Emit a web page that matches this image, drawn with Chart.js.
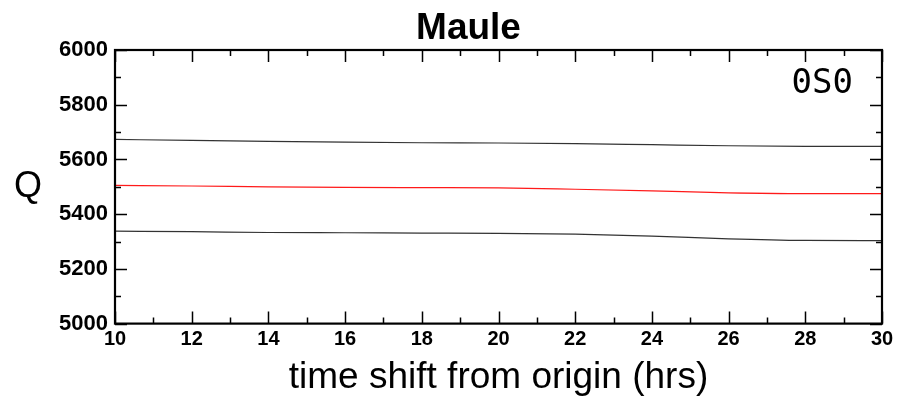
<!DOCTYPE html>
<html>
<head>
<meta charset="utf-8">
<script src="https://cdn.jsdelivr.net/npm/chart.js@4/dist/chart.umd.min.js"></script>
<style>
  html, body { margin: 0; padding: 0; background: #fff; }
  #wrap { width: 899px; height: 401px; position: relative; }
</style>
</head>
<body>
<div id="wrap"><canvas id="chart"></canvas></div>
<script>
// time shift (hrs) and Q values: upper bound, best estimate, lower bound
const hours = [10, 12, 14, 16, 18, 20, 22, 24, 26, 28, 30];
const qUpper = [5673, 5670, 5666, 5663, 5661, 5660, 5658, 5654, 5650, 5648, 5648];
const qBest = [5505, 5503, 5500, 5498, 5497, 5496, 5491, 5485, 5478, 5475, 5475];
const qLower = [5338, 5336, 5333, 5332, 5331, 5330, 5327, 5320, 5310, 5304, 5303];
const xTicks = [10, 12, 14, 16, 18, 20, 22, 24, 26, 28, 30];
const yTicks = [5000, 5200, 5400, 5600, 5800, 6000];

const FONT = '"Liberation Sans", Arial, Helvetica, sans-serif';

function toPoints(vals) {
  return hours.map((h, i) => ({ x: h, y: vals[i] }));
}

// frame with inward major/minor ticks on all four sides, plus the upright Q and mode label
const framePlugin = {
  id: 'frame',
  afterDraw(chart) {
    const { ctx, chartArea: a, scales } = chart;
    const x = scales.x, y = scales.y;
    ctx.save();
    ctx.strokeStyle = '#000';
    ctx.lineWidth = 1.5;
    ctx.beginPath();
    for (let h = 10; h <= 30; h++) {
      const px = Math.round(x.getPixelForValue(h)) + 0.5;
      const len = h % 2 === 0 ? 12 : 6;
      ctx.moveTo(px, a.bottom); ctx.lineTo(px, a.bottom - len);
      ctx.moveTo(px, a.top); ctx.lineTo(px, a.top + len);
    }
    for (let v = 5000; v <= 6000; v += 100) {
      const py = Math.round(y.getPixelForValue(v)) + 0.5;
      const len = v % 200 === 0 ? 12 : 6;
      ctx.moveTo(a.left, py); ctx.lineTo(a.left + len, py);
      ctx.moveTo(a.right, py); ctx.lineTo(a.right - len, py);
    }
    ctx.stroke();

    ctx.lineWidth = 2.2;
    ctx.strokeRect(a.left, a.top, a.right - a.left, a.bottom - a.top);

    ctx.fillStyle = '#000';
    ctx.font = '36px ' + FONT;
    ctx.textAlign = 'center';
    ctx.textBaseline = 'middle';
    ctx.fillText('Q', 28, (a.top + a.bottom) / 2);

    ctx.font = '34px "DejaVu Sans Mono", monospace';
    ctx.textAlign = 'right';
    ctx.textBaseline = 'alphabetic';
    ctx.fillText('0S0', a.right - 29, 93);
    ctx.restore();
  }
};

const lineStyle = {
  fill: false,
  pointRadius: 0,
  borderWidth: 1.2,
  cubicInterpolationMode: 'monotone'
};

new Chart(document.getElementById('chart'), {
  type: 'line',
  data: {
    datasets: [
      Object.assign({ label: 'upper', data: toPoints(qUpper), borderColor: '#333' }, lineStyle),
      Object.assign({ label: 'Q', data: toPoints(qBest), borderColor: '#ff1a1a' }, lineStyle),
      Object.assign({ label: 'lower', data: toPoints(qLower), borderColor: '#333' }, lineStyle)
    ]
  },
  options: {
    responsive: true,
    maintainAspectRatio: false,
    animation: false,
    layout: { padding: { left: 55, right: 17, top: 0, bottom: 0 } },
    plugins: {
      legend: { display: false },
      tooltip: { enabled: false },
      title: {
        display: true,
        text: 'Maule',
        color: '#000',
        font: { family: FONT, size: 37, weight: 'bold', lineHeight: 1.0 },
        padding: { top: 10.7, bottom: 2.3 }
      }
    },
    scales: {
      x: {
        type: 'linear',
        min: 10,
        max: 30,
        afterBuildTicks(scale) { scale.ticks = xTicks.map(v => ({ value: v })); },
        grid: { display: false, drawTicks: false },
        border: { display: false },
        ticks: {
          padding: 5,
          color: '#000',
          callback: v => String(v),
          font: { family: FONT, size: 20, weight: 'bold', lineHeight: 1.1 }
        },
        title: {
          display: true,
          text: 'time shift from origin (hrs)',
          color: '#000',
          font: { family: FONT, size: 37, lineHeight: 1.2 },
          padding: { top: 0, bottom: 1 }
        }
      },
      y: {
        min: 5000,
        max: 6000,
        afterBuildTicks(scale) { scale.ticks = yTicks.map(v => ({ value: v })); },
        afterFit(scale) { scale.width = 60; },
        grid: { display: false, drawTicks: false },
        border: { display: false },
        ticks: {
          padding: 7,
          color: '#000',
          callback: v => String(v),
          font: { family: FONT, size: 22, weight: 'bold' }
        }
      }
    }
  },
  plugins: [framePlugin]
});
</script>
</body>
</html>
